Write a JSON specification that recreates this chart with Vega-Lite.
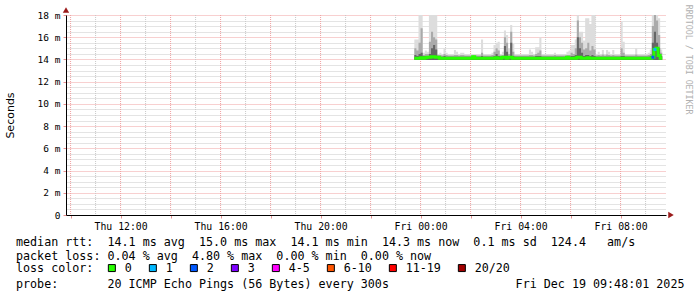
{
"$schema": "https://vega.github.io/schema/vega-lite/v6.json",
"width": 600,
"height": 200,
"autosize": {"type": "none"},
"padding": {"left": 66, "top": 15, "right": 31, "bottom": 82},
"background": "white",
"config": {"view": {"stroke": null}},
"datasets": {
"hourly": [
{"h":"2025-12-18T10:00"},{"h":"2025-12-18T11:00"},{"h":"2025-12-18T12:00"},{"h":"2025-12-18T13:00"},
{"h":"2025-12-18T14:00"},{"h":"2025-12-18T15:00"},{"h":"2025-12-18T16:00"},{"h":"2025-12-18T17:00"},
{"h":"2025-12-18T18:00"},{"h":"2025-12-18T19:00"},{"h":"2025-12-18T20:00"},{"h":"2025-12-18T21:00"},
{"h":"2025-12-18T22:00"},{"h":"2025-12-18T23:00"},{"h":"2025-12-19T00:00"},{"h":"2025-12-19T01:00"},
{"h":"2025-12-19T02:00"},{"h":"2025-12-19T03:00"},{"h":"2025-12-19T04:00"},{"h":"2025-12-19T05:00"},
{"h":"2025-12-19T06:00"},{"h":"2025-12-19T07:00"},{"h":"2025-12-19T08:00"},{"h":"2025-12-19T09:00"}
],
"smoke": [
{"t":"2025-12-18T23:45","lo":13.95,"inn":14.4,"mid":15.0,"hi":15.8,"me":14.1},
{"t":"2025-12-18T23:50","lo":13.95,"inn":14.3,"mid":14.8,"hi":15.8,"me":14.1},
{"t":"2025-12-18T23:55","lo":13.95,"inn":14.5,"mid":15.5,"hi":19,"me":14.1},
{"t":"2025-12-19T00:00","lo":13.95,"inn":14.6,"mid":16.8,"hi":19,"me":14.15},
{"t":"2025-12-19T00:05","lo":13.95,"inn":14.3,"mid":14.4,"hi":14.6,"me":14.1},
{"t":"2025-12-19T00:10","lo":13.95,"inn":14.3,"mid":14.5,"hi":14.8,"me":14.15},
{"t":"2025-12-19T00:15","lo":13.95,"inn":14.3,"mid":14.5,"hi":14.7,"me":14.2},
{"t":"2025-12-19T00:20","lo":13.95,"inn":14.5,"mid":15.6,"hi":19,"me":14.2},
{"t":"2025-12-19T00:25","lo":13.95,"inn":15.0,"mid":16.5,"hi":19,"me":14.25},
{"t":"2025-12-19T00:30","lo":13.95,"inn":15.3,"mid":16.0,"hi":19,"me":14.25},
{"t":"2025-12-19T00:35","lo":13.95,"inn":14.9,"mid":15.8,"hi":19,"me":14.2},
{"t":"2025-12-19T00:40","lo":13.95,"inn":14.3,"mid":14.4,"hi":14.5,"me":14.2},
{"t":"2025-12-19T00:45","lo":13.95,"inn":14.25,"mid":14.4,"hi":14.6,"me":14.1},
{"t":"2025-12-19T00:50","lo":13.95,"inn":14.25,"mid":14.35,"hi":14.5,"me":14.1},
{"t":"2025-12-19T00:55","lo":13.95,"inn":14.3,"mid":14.5,"hi":15.0,"me":14.1},
{"t":"2025-12-19T01:00","lo":13.95,"inn":14.25,"mid":14.4,"hi":14.6,"me":14.1},
{"t":"2025-12-19T01:05","lo":13.95,"inn":14.25,"mid":14.35,"hi":14.5,"me":14.1},
{"t":"2025-12-19T01:20","lo":13.95,"inn":14.25,"mid":14.4,"hi":14.85,"me":14.1},
{"t":"2025-12-19T01:25","lo":13.95,"inn":14.25,"mid":14.4,"hi":14.7,"me":14.1},
{"t":"2025-12-19T01:30","lo":13.95,"inn":14.25,"mid":14.35,"hi":14.5,"me":14.1},
{"t":"2025-12-19T01:35","lo":13.95,"inn":14.25,"mid":14.4,"hi":14.6,"me":14.1},
{"t":"2025-12-19T01:45","lo":13.95,"inn":14.25,"mid":14.35,"hi":14.5,"me":14.1},
{"t":"2025-12-19T02:05","lo":13.95,"inn":14.3,"mid":14.4,"hi":14.5,"me":14.25},
{"t":"2025-12-19T02:10","lo":13.95,"inn":14.25,"mid":14.35,"hi":14.5,"me":14.1},
{"t":"2025-12-19T02:25","lo":13.95,"inn":14.3,"mid":14.6,"hi":15.8,"me":14.1},
{"t":"2025-12-19T02:30","lo":13.95,"inn":14.25,"mid":14.35,"hi":14.5,"me":14.1},
{"t":"2025-12-19T02:50","lo":13.95,"inn":14.25,"mid":14.4,"hi":14.6,"me":14.1},
{"t":"2025-12-19T02:55","lo":13.95,"inn":14.3,"mid":14.7,"hi":15.3,"me":14.1},
{"t":"2025-12-19T03:00","lo":13.95,"inn":14.5,"mid":15.0,"hi":15.5,"me":14.15},
{"t":"2025-12-19T03:05","lo":13.95,"inn":14.3,"mid":14.8,"hi":15.6,"me":14.1},
{"t":"2025-12-19T03:10","lo":13.95,"inn":14.25,"mid":14.35,"hi":14.5,"me":14.1},
{"t":"2025-12-19T03:15","lo":13.95,"inn":14.3,"mid":14.4,"hi":14.7,"me":14.2},
{"t":"2025-12-19T03:20","lo":13.95,"inn":15.2,"mid":16.0,"hi":16.6,"me":14.2},
{"t":"2025-12-19T03:25","lo":13.95,"inn":14.7,"mid":15.5,"hi":16.2,"me":14.1},
{"t":"2025-12-19T03:30","lo":13.95,"inn":14.3,"mid":14.5,"hi":15.0,"me":14.2},
{"t":"2025-12-19T03:35","lo":13.95,"inn":15.5,"mid":16.5,"hi":17.1,"me":14.2},
{"t":"2025-12-19T03:40","lo":13.95,"inn":14.3,"mid":14.7,"hi":15.4,"me":14.1},
{"t":"2025-12-19T03:45","lo":13.95,"inn":14.25,"mid":14.35,"hi":14.5,"me":14.1},
{"t":"2025-12-19T04:20","lo":13.95,"inn":14.25,"mid":14.4,"hi":14.9,"me":14.1},
{"t":"2025-12-19T04:25","lo":13.95,"inn":14.25,"mid":14.4,"hi":14.7,"me":14.1},
{"t":"2025-12-19T04:30","lo":13.95,"inn":14.25,"mid":14.35,"hi":14.5,"me":14.1},
{"t":"2025-12-19T04:35","lo":13.95,"inn":14.3,"mid":14.5,"hi":15.1,"me":14.1},
{"t":"2025-12-19T04:40","lo":13.95,"inn":14.3,"mid":14.6,"hi":15.1,"me":14.1},
{"t":"2025-12-19T04:45","lo":13.95,"inn":14.3,"mid":14.8,"hi":16.0,"me":14.1},
{"t":"2025-12-19T04:50","lo":13.95,"inn":14.25,"mid":14.35,"hi":14.5,"me":14.1},
{"t":"2025-12-19T05:20","lo":13.95,"inn":14.25,"mid":14.4,"hi":14.6,"me":14.1},
{"t":"2025-12-19T05:25","lo":13.95,"inn":14.25,"mid":14.35,"hi":14.5,"me":14.1},
{"t":"2025-12-19T05:50","lo":13.95,"inn":14.3,"mid":14.4,"hi":14.7,"me":14.2},
{"t":"2025-12-19T05:55","lo":13.95,"inn":14.25,"mid":14.4,"hi":14.8,"me":14.1},
{"t":"2025-12-19T06:00","lo":13.95,"inn":14.3,"mid":14.6,"hi":15.3,"me":14.1},
{"t":"2025-12-19T06:05","lo":13.95,"inn":14.3,"mid":14.5,"hi":15.3,"me":14.1},
{"t":"2025-12-19T06:10","lo":13.95,"inn":14.4,"mid":15.0,"hi":15.8,"me":14.1},
{"t":"2025-12-19T06:15","lo":13.95,"inn":16.0,"mid":17.5,"hi":19,"me":14.2},
{"t":"2025-12-19T06:20","lo":13.95,"inn":15.0,"mid":16.0,"hi":16.5,"me":14.2},
{"t":"2025-12-19T06:25","lo":13.95,"inn":14.6,"mid":15.5,"hi":16.5,"me":14.1},
{"t":"2025-12-19T06:30","lo":13.95,"inn":14.3,"mid":14.9,"hi":15.7,"me":14.1},
{"t":"2025-12-19T06:35","lo":13.95,"inn":14.4,"mid":15.0,"hi":17.7,"me":14.1},
{"t":"2025-12-19T06:40","lo":13.95,"inn":14.4,"mid":15.5,"hi":17.7,"me":14.15},
{"t":"2025-12-19T06:45","lo":13.95,"inn":14.3,"mid":14.8,"hi":17.2,"me":14.1},
{"t":"2025-12-19T06:50","lo":13.95,"inn":14.4,"mid":15.2,"hi":19,"me":14.1},
{"t":"2025-12-19T06:55","lo":13.95,"inn":14.3,"mid":14.9,"hi":19,"me":14.1},
{"t":"2025-12-19T07:00","lo":13.95,"inn":14.25,"mid":14.35,"hi":14.5,"me":14.1},
{"t":"2025-12-19T07:05","lo":13.95,"inn":14.25,"mid":14.4,"hi":14.7,"me":14.1},
{"t":"2025-12-19T07:10","lo":13.95,"inn":14.25,"mid":14.35,"hi":14.5,"me":14.1},
{"t":"2025-12-19T07:15","lo":13.95,"inn":14.25,"mid":14.45,"hi":14.85,"me":14.1},
{"t":"2025-12-19T07:20","lo":13.95,"inn":14.25,"mid":14.35,"hi":14.5,"me":14.1},
{"t":"2025-12-19T07:25","lo":13.95,"inn":14.25,"mid":14.45,"hi":14.85,"me":14.1},
{"t":"2025-12-19T07:30","lo":13.95,"inn":14.25,"mid":14.4,"hi":14.7,"me":14.1},
{"t":"2025-12-19T07:35","lo":13.95,"inn":14.25,"mid":14.35,"hi":14.5,"me":14.1},
{"t":"2025-12-19T07:40","lo":13.95,"inn":14.25,"mid":14.4,"hi":14.85,"me":14.1},
{"t":"2025-12-19T07:45","lo":13.95,"inn":14.25,"mid":14.35,"hi":14.5,"me":14.1},
{"t":"2025-12-19T08:00","lo":13.95,"inn":14.3,"mid":15.0,"hi":17.4,"me":14.1},
{"t":"2025-12-19T08:05","lo":13.95,"inn":14.3,"mid":14.6,"hi":15.6,"me":14.1},
{"t":"2025-12-19T08:10","lo":13.95,"inn":14.25,"mid":14.35,"hi":14.5,"me":14.1},
{"t":"2025-12-19T08:35","lo":13.95,"inn":14.25,"mid":14.45,"hi":15.0,"me":14.1},
{"t":"2025-12-19T08:40","lo":13.95,"inn":14.25,"mid":14.35,"hi":14.5,"me":14.1},
{"t":"2025-12-19T09:05","lo":13.95,"inn":14.25,"mid":14.4,"hi":14.6,"me":14.1},
{"t":"2025-12-19T09:10","lo":13.95,"inn":14.3,"mid":14.5,"hi":14.9,"me":14.1},
{"t":"2025-12-19T09:15","lo":13.95,"inn":15.5,"mid":17.0,"hi":19,"me":14.2},
{"t":"2025-12-19T09:20","lo":13.95,"inn":16.5,"mid":18.3,"hi":19,"me":14.9},
{"t":"2025-12-19T09:25","lo":13.95,"inn":15.5,"mid":17.5,"hi":19,"me":15.0},
{"t":"2025-12-19T09:30","lo":13.95,"inn":15.0,"mid":16.2,"hi":17.7,"me":14.35},
{"t":"2025-12-19T09:35","lo":13.95,"inn":14.3,"mid":14.6,"hi":14.9,"me":14.1},
{"t":"2025-12-19T09:40","lo":13.95,"inn":14.3,"mid":14.6,"hi":14.9,"me":14.1}
],
"lossy": [
{"t":"2025-12-19T09:17:30","me":14.2,"loss":"2"},
{"t":"2025-12-19T09:22:30","me":14.9,"loss":"1"}
],
"lines": [
{"row":0,"col":0,"text":"median rtt:\u00a0\u00a014.1 ms avg\u00a0\u00a015.0 ms max\u00a0\u00a014.1 ms min\u00a0\u00a014.3 ms now\u00a0\u00a00.1 ms sd\u00a0\u00a0124.4\u00a0\u00a0\u00a0am/s"},
{"row":1,"col":0,"text":"packet loss: 0.04 % avg\u00a0\u00a04.80 % max\u00a0\u00a00.00 % min\u00a0\u00a00.00 % now"},
{"row":3,"col":0,"text":"probe:\u00a0\u00a0\u00a0\u00a0\u00a0\u00a0\u00a020 ICMP Echo Pings (56 Bytes) every 300s\u00a0\u00a0\u00a0\u00a0\u00a0\u00a0\u00a0\u00a0\u00a0\u00a0\u00a0\u00a0\u00a0\u00a0\u00a0\u00a0\u00a0\u00a0Fri Dec 19 09:48:01 2025"}
]
},
"layer": [
{
"data": {"name": "hourly"},
"transform": [{"filter": "hours(toDate(datum.h)) % 2 == 1"}],
"mark": {"type": "rule", "color": "#c8c8c8", "strokeDash": [1, 1], "strokeWidth": 1},
"encoding": {
"x": {"field": "h", "type": "temporal",
"scale": {"domain": [{"year":2025,"month":12,"date":18,"hours":9,"minutes":49},{"year":2025,"month":12,"date":19,"hours":9,"minutes":49}]},
"axis": null}
}
},
{
"data": {"name": "hourly"},
"transform": [{"filter": "hours(toDate(datum.h)) % 2 == 0"}],
"mark": {"type": "rule", "color": "#f0a0a0", "strokeDash": [1, 1], "strokeWidth": 1},
"encoding": {
"x": {"field": "h", "type": "temporal",
"scale": {"domain": [{"year":2025,"month":12,"date":18,"hours":9,"minutes":49},{"year":2025,"month":12,"date":19,"hours":9,"minutes":49}]},
"axis": null}
}
},
{
"data": {"name": "smoke"},
"mark": {"type": "area", "interpolate": "step-after", "clip": true, "color": "#dddddd", "opacity": 1},
"encoding": {
"x": {"field": "t", "type": "temporal",
"scale": {"domain": [{"year":2025,"month":12,"date":18,"hours":9,"minutes":49},{"year":2025,"month":12,"date":19,"hours":9,"minutes":49}]},
"axis": null},
"y": {"field": "lo", "type": "quantitative", "scale": {"domain": [0, 18], "nice": false, "zero": false},
"axis": {"orient":"left","values":[0.5,1,1.5,2.5,3,3.5,4.5,5,5.5,6.5,7,7.5,8.5,9,9.5,10.5,11,11.5,12.5,13,13.5,14.5,15,15.5,16.5,17,17.5],
"grid":true,"gridColor":"#c8c8c8","gridDash":[1,1],"gridWidth":1,"labels":false,"ticks":false,"domain":false,"title":null}},
"y2": {"field": "hi"}
}
},
{
"data": {"name": "smoke"},
"mark": {"type": "area", "interpolate": "step-after", "clip": true, "color": "#aaaaaa", "opacity": 1},
"encoding": {
"x": {"field": "t", "type": "temporal",
"scale": {"domain": [{"year":2025,"month":12,"date":18,"hours":9,"minutes":49},{"year":2025,"month":12,"date":19,"hours":9,"minutes":49}]},
"axis": {"orient":"bottom",
"values": [{"year":2025,"month":12,"date":18,"hours":10},{"year":2025,"month":12,"date":18,"hours":12},{"year":2025,"month":12,"date":18,"hours":14},{"year":2025,"month":12,"date":18,"hours":16},{"year":2025,"month":12,"date":18,"hours":18},{"year":2025,"month":12,"date":18,"hours":20},{"year":2025,"month":12,"date":18,"hours":22},{"year":2025,"month":12,"date":19,"hours":0},{"year":2025,"month":12,"date":19,"hours":2},{"year":2025,"month":12,"date":19,"hours":4},{"year":2025,"month":12,"date":19,"hours":6},{"year":2025,"month":12,"date":19,"hours":8}],
"grid":false,
"labelExpr":"hours(datum.value) % 4 == 0 ? timeFormat(datum.value, '%a %H:%M') : ''",
"labelFont":"DejaVu Sans Mono","labelFontSize":9.8,"labelColor":"#000000","labelPadding":3,"labelOverlap":false,"labelFlush":false,
"domain":true,"domainColor":"#000000","domainWidth":1,"ticks":true,"tickSize":3,"tickColor":"#e89090","title":null}},
"y": {"field": "lo", "type": "quantitative", "scale": {"domain": [0, 18], "nice": false, "zero": false},
"axis": {"orient":"left","values":[0,2,4,6,8,10,12,14,16,18],"grid":true,"gridColor":"#f0a0a0","gridDash":[1,1],"gridWidth":1,
"labelExpr":"datum.value == 0 ? '0' : datum.value + ' m'",
"labelFont":"DejaVu Sans Mono","labelFontSize":9.5,"labelColor":"#000000","labelPadding":3,
"domain":true,"domainColor":"#000000","domainWidth":1,"ticks":true,"tickSize":3,"tickColor":"#e89090",
"title":"Seconds","titleFont":"DejaVu Sans","titleFontSize":11,"titleFontWeight":"normal","titleColor":"#000000","titlePadding":22}},
"y2": {"field": "mid"}
}
},
{
"data": {"name": "smoke"},
"mark": {"type": "area", "interpolate": "step-after", "clip": true, "color": "#666666", "opacity": 1},
"encoding": {
"x": {"field": "t", "type": "temporal",
"scale": {"domain": [{"year":2025,"month":12,"date":18,"hours":9,"minutes":49},{"year":2025,"month":12,"date":19,"hours":9,"minutes":49}]},
"axis": null},
"y": {"field": "lo", "type": "quantitative", "scale": {"domain": [0, 18], "nice": false, "zero": false}, "axis": null},
"y2": {"field": "inn"}
}
},
{
"data": {"name": "smoke"},
"mark": {"type": "line", "interpolate": "step-after", "clip": true, "color": "#26ff00", "strokeWidth": 3},
"encoding": {
"x": {"field": "t", "type": "temporal",
"scale": {"domain": [{"year":2025,"month":12,"date":18,"hours":9,"minutes":49},{"year":2025,"month":12,"date":19,"hours":9,"minutes":49}]},
"axis": null},
"y": {"field": "me", "type": "quantitative", "scale": {"domain": [0, 18], "nice": false, "zero": false}, "axis": null}
}
},
{
"data": {"name": "lossy"},
"mark": {"type": "point", "shape": "square", "filled": true, "size": 9, "opacity": 1},
"encoding": {
"x": {"field": "t", "type": "temporal",
"scale": {"domain": [{"year":2025,"month":12,"date":18,"hours":9,"minutes":49},{"year":2025,"month":12,"date":19,"hours":9,"minutes":49}]},
"axis": null},
"y": {"field": "me", "type": "quantitative", "scale": {"domain": [0, 18], "nice": false, "zero": false}, "axis": null},
"color": {"field": "loss", "type": "nominal",
"scale": {"domain": ["0","1","2","3","4-5","6-10","11-19","20/20"],
"range": ["#26ff00","#00b8ff","#0059ff","#7e00ff","#ff00ff","#ff5500","#ff0000","#a10000"]},
"legend": {"title": "loss color:", "orient": "none", "legendX": -50, "legendY": 247, "direction": "horizontal",
"titleOrient": "left", "titlePadding": 12, "titleFont": "DejaVu Sans Mono", "titleFontSize": 11.7, "titleFontWeight": "normal", "titleColor": "#000000",
"labelFont": "DejaVu Sans Mono", "labelFontSize": 11.7, "labelColor": "#000000", "labelOffset": 7, "columnPadding": 15,
"symbolType": "square", "symbolSize": 49, "symbolStrokeColor": "#000000", "symbolStrokeWidth": 1, "symbolOpacity": 1, "padding": 0}
}
}
},
{
"data": {"values": [{"t": "2025-12-19T10:01", "v": 0}]},
"mark": {"type": "point", "shape": "triangle-right", "filled": true, "color": "#9b1c1c", "size": 40, "opacity": 1},
"encoding": {
"x": {"field": "t", "type": "temporal",
"scale": {"domain": [{"year":2025,"month":12,"date":18,"hours":9,"minutes":49},{"year":2025,"month":12,"date":19,"hours":9,"minutes":49}]},
"axis": null},
"y": {"field": "v", "type": "quantitative", "scale": {"domain": [0, 18], "nice": false, "zero": false}, "axis": null}
}
},
{
"data": {"values": [{"t": "2025-12-18T09:49", "v": 18.45}]},
"mark": {"type": "point", "shape": "triangle-up", "filled": true, "color": "#9b1c1c", "size": 40, "opacity": 1},
"encoding": {
"x": {"field": "t", "type": "temporal",
"scale": {"domain": [{"year":2025,"month":12,"date":18,"hours":9,"minutes":49},{"year":2025,"month":12,"date":19,"hours":9,"minutes":49}]},
"axis": null},
"y": {"field": "v", "type": "quantitative", "scale": {"domain": [0, 18], "nice": false, "zero": false}, "axis": null}
}
},
{
"data": {"name": "lines"},
"mark": {"type": "text", "align": "left", "baseline": "alphabetic", "font": "DejaVu Sans Mono", "fontSize": 11.7, "color": "#000000"},
"encoding": {
"x": {"field": "col", "type": "quantitative", "scale": {"domain": [0, 100], "range": [-50, 654]}, "axis": null},
"y": {"field": "row", "type": "quantitative", "scale": {"domain": [0, 3], "range": [230.5, 272.5]}, "axis": null},
"text": {"field": "text"}
}
},
{
"data": {"values": [{"col": 95.45, "row": -17.2, "text": "RRDTOOL / TOBI OETIKER"}]},
"mark": {"type": "text", "align": "left", "baseline": "middle", "angle": 90, "font": "DejaVu Sans Mono", "fontSize": 8.3, "color": "#b0b0b0"},
"encoding": {
"x": {"field": "col", "type": "quantitative", "scale": {"domain": [0, 100], "range": [-50, 654]}, "axis": null},
"y": {"field": "row", "type": "quantitative", "scale": {"domain": [0, 3], "range": [230.5, 272.5]}, "axis": null},
"text": {"field": "text"}
}
}
],
"resolve": {"scale": {"x": "independent", "y": "independent"}}
}
